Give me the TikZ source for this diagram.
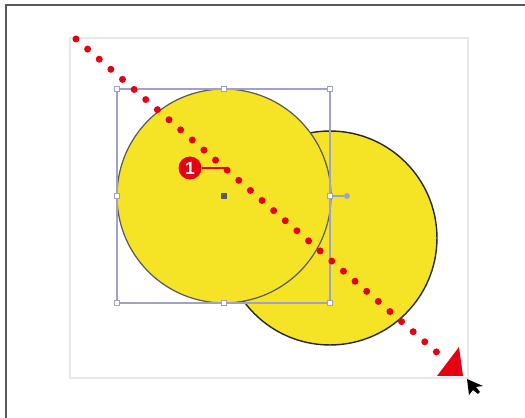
\documentclass[tikz,border=0pt]{standalone}
\usetikzlibrary{positioning, calc}
\usepackage{fontspec}
\setmainfont{Liberation Sans}
\definecolor{dotred}{RGB}{230, 0, 18}
\definecolor{fillyellow}{RGB}{245, 228, 38}
\definecolor{selblue}{RGB}{160, 160, 205}
\definecolor{pagegray}{RGB}{232, 232, 232}
\definecolor{edgegray}{RGB}{90, 90, 90}

\begin{document}
\begin{tikzpicture}[
        x=0.02cm, y=-0.02cm,
        disc/.style={circle, fill=fillyellow, inner sep=0pt, minimum size=4.28cm},
        handle/.style={draw=selblue, fill=white, inner sep=0pt, minimum size=0.11cm, line width=0.4pt},
        callout/.style={circle, fill=dotred, text=white, inner sep=0pt, minimum size=0.46cm, font=\bfseries},
        dotline/.style={dotred, line width=0.14cm, line cap=round, dash pattern=on 0pt off 0.308cm}
      ]
        \useasboundingbox (0,0) rectangle (525,418);
        % page frame and artboard
        \draw[edgegray, line width=0.7pt] (6,418) -- (6,5) -- (525,5);
        \draw[pagegray, line width=0.6pt] (70,38) rectangle (468,378);
        % the two circles
        \node[disc, draw=black!85, line width=0.8pt] (back)  at (330,238) {};
        \node[disc, draw=edgegray, line width=0.7pt] (front) at (224,196) {};
        \fill[edgegray] (221,193) rectangle (227,199);
        % selection box with handles
        \draw[selblue, line width=0.6pt] (117,89) rectangle (330,303);
        \node[handle] (nw) at (117,89) {};
        \node[handle] (n)  at (224,89) {};
        \node[handle] (ne) at (330,89) {};
        \node[handle] (w)  at (117,196) {};
        \node[handle] (e)  at (330,196) {};
        \node[handle] (sw) at (117,303) {};
        \node[handle] (s)  at (224,303) {};
        \node[handle] (se) at (330,303) {};
        \node[circle, fill=selblue, inner sep=0pt, minimum size=0.12cm] (rot) at (347,196) {};
        \draw[selblue, line width=0.6pt] (e) -- (rot);
        % dotted drag line
        \coordinate (start) at (76,39);
        \coordinate (stop)  at (440,355);
        \draw[dotline] (start) -- (stop);
        \fill[dotred] (437,376) -- (463,376) -- (459,347) -- cycle;
        % callout
        \coordinate (mark) at (227,168);
        \node[callout] (one) at (190,168) {1};
        \draw[dotred, line width=0.7pt] (one) -- (mark);
        % mouse pointer
        \fill[black] (467,379) -- (469,395) -- (473,390) -- (478,394) -- (480,392) -- (476,387) -- (483,386) -- cycle;
      \end{tikzpicture}
\end{document}
